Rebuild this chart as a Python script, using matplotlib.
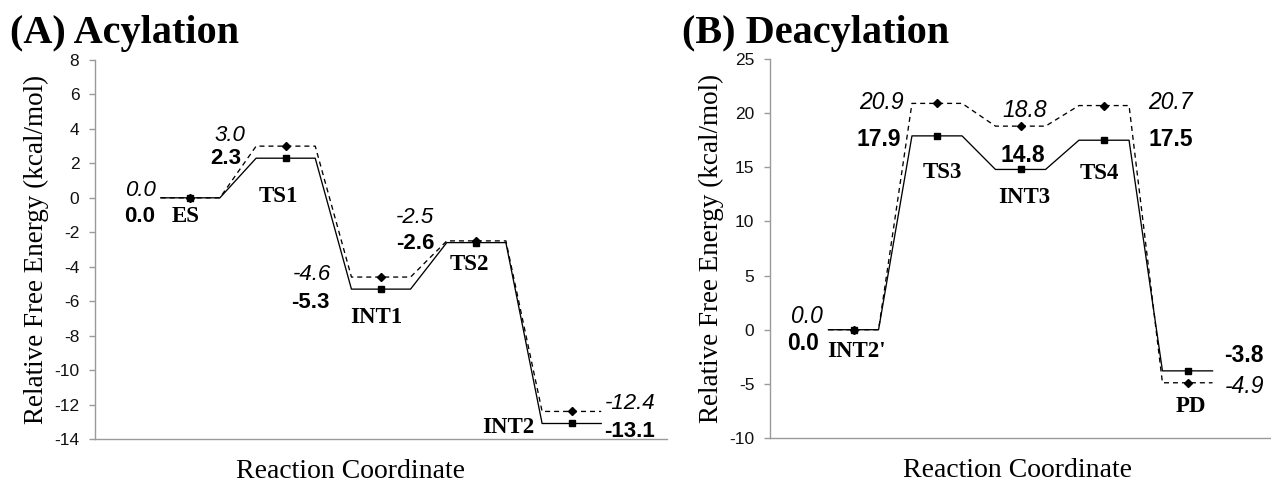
import matplotlib.pyplot as plt

plt.rcParams['axes.unicode_minus'] = False
plt.rcParams['font.family'] = 'Liberation Sans'

# (A) acylation
states_a = ["ES", "TS1", "INT1", "TS2", "INT2"]
solid_a = [0.0, 2.3, -5.3, -2.6, -13.1]
dashed_a = [0.0, 3.0, -4.6, -2.5, -12.4]

# (B) deacylation
states_b = ["INT2'", "TS3", "INT3", "TS4", "PD"]
solid_b = [0.0, 17.9, 14.8, 17.5, -3.8]
dashed_b = [0.0, 20.9, 18.8, 20.7, -4.9]

GRAY = '#9a9a9a'


def steps(vals, h):
    xs, ys = [], []
    for i, v in enumerate(vals):
        xs += [i + 1 - h, i + 1 + h]
        ys += [v, v]
    return xs, ys


def draw_panel(ax, names, solid, dashed, h, ylim, yticks,
               bold_off, ital_off, name_off, val_size, name_size):
    xs, ys = steps(dashed, h)
    ax.plot(xs, ys, color='black', lw=0.95, ls=(0, (3.8, 3.0)))
    ax.plot(range(1, len(dashed) + 1), dashed, ls='none', marker='D',
            ms=3.6, color='black')
    xs, ys = steps(solid, h)
    ax.plot(xs, ys, color='black', lw=0.95)
    ax.plot(range(1, len(solid) + 1), solid, ls='none', marker='s',
            ms=4.4, color='black')

    for i in range(len(names)):
        x = i + 1
        dx, dy, ha = bold_off[i]
        ax.annotate(f"{solid[i]:.1f}", (x, solid[i]), xytext=(dx, dy),
                    textcoords='offset pixels', ha=ha, va='baseline',
                    fontsize=val_size, fontweight='bold')
        dx, dy, ha = ital_off[i]
        ax.annotate(f"{dashed[i]:.1f}", (x, dashed[i]), xytext=(dx, dy),
                    textcoords='offset pixels', ha=ha, va='baseline',
                    fontsize=val_size, fontstyle='italic')
        dx, dy, ha = name_off[i]
        ax.annotate(names[i], (x, solid[i]), xytext=(dx, dy),
                    textcoords='offset pixels', ha=ha, va='baseline',
                    fontsize=name_size, fontweight='bold',
                    family='Liberation Serif')

    ax.set_xlim(0, 6)
    ax.set_ylim(*ylim)
    ax.set_yticks(yticks)
    ax.set_xticks([])
    for s in ['top', 'right']:
        ax.spines[s].set_visible(False)
    for s in ['left', 'bottom']:
        ax.spines[s].set_color(GRAY)
        ax.spines[s].set_linewidth(1.0)
    ax.tick_params(axis='y', colors=GRAY, length=4.3, width=1.0, pad=7,
                   labelcolor='#111111', labelsize=12.5)
    ax.set_ylabel("Relative Free Energy (kcal/mol)", family='Liberation Serif',
                  fontsize=19.5)
    ax.set_xlabel("Reaction Coordinate", family='Liberation Serif',
                  fontsize=20, va='top')


fig = plt.figure(figsize=(12.71, 4.83), dpi=100)
ax1 = fig.add_axes([95 / 1271, 44 / 483, 572 / 1271, 379 / 483])
ax2 = fig.add_axes([770 / 1271, 45 / 483, 501 / 1271, 379 / 483])

draw_panel(ax1, states_a, solid_a, dashed_a, 0.31, (-14, 8), range(-14, 9, 2),
           bold_off=[(-35, -24, 'right'), (-44, -6, 'right'), (-52, -19, 'right'),
                     (-42, -6, 'right'), (32, -14, 'left')],
           ital_off=[(-34, 2, 'right'), (-40, 5, 'right'), (-50, -3, 'right'),
                     (-42, 18, 'right'), (33, 2.5, 'left')],
           name_off=[(-4.5, -24, 'center'), (-7, -44, 'center'), (-5, -34, 'center'),
                     (-7, -27, 'center'), (-37, -10, 'right')],
           val_size=16, name_size=16.5)

draw_panel(ax2, states_b, solid_b, dashed_b, 0.3, (-10, 25), range(-10, 26, 5),
           bold_off=[(-34, -20, 'right'), (-35.5, -10, 'right'), (2.5, 7, 'center'),
                     (44.5, -6, 'left'), (37, 9, 'left')],
           ital_off=[(-31, 7, 'right'), (-33.5, -6, 'right'), (4.5, 9, 'center'),
                     (44.5, -3.5, 'left'), (37, -10, 'left')],
           name_off=[(-26, -27, 'left'), (5.5, -42, 'center'), (4, -34, 'center'),
                     (-4.5, -39, 'center'), (3.5, -41, 'center')],
           val_size=16.5, name_size=16.5)

ax1.yaxis.set_label_coords(-46 / 572, 0.5)
ax2.yaxis.set_label_coords(-46 / 501, 0.5)
ax1.xaxis.set_label_coords(0.446, -20 / 379)
ax2.xaxis.set_label_coords(0.495, -20 / 379)

fig.text(10 / 1271, 1 - 43 / 483, "(A) Acylation", family='Liberation Serif',
         fontweight='bold', fontsize=29, va='baseline')
fig.text(682 / 1271, 1 - 43 / 483, "(B) Deacylation", family='Liberation Serif',
         fontweight='bold', fontsize=29, va='baseline')

fig.savefig('out.png', dpi=100)
